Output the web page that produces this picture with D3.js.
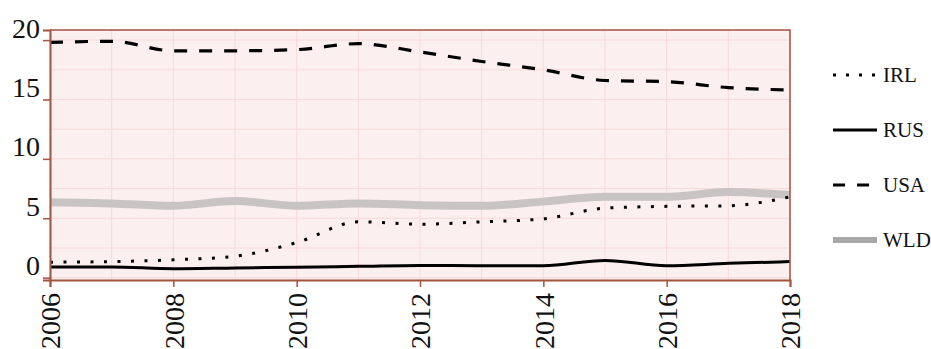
<!DOCTYPE html>
<html>
<head>
<meta charset="utf-8">
<script src="https://cdn.jsdelivr.net/npm/d3@7"></script>
<style>
  html, body { margin: 0; padding: 0; background: #ffffff; }
  svg { display: block; }
  text { font-family: "Liberation Serif", "Times New Roman", serif; fill: #111; }
</style>
</head>
<body>
<svg id="chart" width="931" height="349"></svg>
<script>
// Years on the x axis
const years = [2006, 2007, 2008, 2009, 2010, 2011, 2012, 2013, 2014, 2015, 2016, 2017, 2018];

// Series values per year
const irl = [1.3, 1.35, 1.5, 1.8, 2.95, 4.7, 4.5, 4.7, 4.95, 5.85, 6.0, 6.05, 6.8];
const rus = [0.9, 0.9, 0.75, 0.82, 0.88, 0.95, 1.03, 1.0, 1.0, 1.45, 1.0, 1.2, 1.35];
const usa = [19.8, 19.9, 19.1, 19.1, 19.2, 19.7, 19.0, 18.2, 17.5, 16.6, 16.5, 16.0, 15.8];
const wld = [6.35, 6.25, 6.05, 6.45, 6.05, 6.25, 6.1, 6.05, 6.4, 6.8, 6.8, 7.2, 6.95];

// Tick labels
const xTicks = [2006, 2008, 2010, 2012, 2014, 2016, 2018];
const yTicks = [0, 5, 10, 15, 20];
const yGrid = [0, 2.5, 5, 7.5, 10, 12.5, 15, 17.5, 20];

const seriesNames = ["IRL", "RUS", "USA", "WLD"];

const svg = d3.select("#chart");
const plotLeft = 50, plotRight = 790, plotTop = 30, plotBottom = 280;
const axisColor = "#a4533f";
const serif = "Liberation Serif";

const x = d3.scaleLinear().domain([2006, 2018]).range([plotLeft, plotRight]);
const y = d3.scaleLinear().domain([-0.2, 20.85]).range([plotBottom, plotTop]);

// Plot background
svg.append("rect")
  .attr("x", plotLeft).attr("y", plotTop)
  .attr("width", plotRight - plotLeft).attr("height", plotBottom - plotTop)
  .attr("fill", "#fcefef");

// Grid lines
const grid = svg.append("g").attr("stroke", "#f7dada").attr("stroke-width", 1);
grid.selectAll("line.h").data(yGrid).join("line").attr("class", "h")
  .attr("x1", plotLeft).attr("x2", plotRight)
  .attr("y1", d => y(d)).attr("y2", d => y(d));
grid.selectAll("line.v").data(years).join("line").attr("class", "v")
  .attr("y1", plotTop).attr("y2", plotBottom)
  .attr("x1", d => x(d)).attr("x2", d => x(d));

// Series styles
const styles = {
  IRL: { values: irl, color: "#000", width: 3, dash: "3,10.5" },
  RUS: { values: rus, color: "#000", width: 3, dash: null },
  USA: { values: usa, color: "#000", width: 3.2, dash: "13,12" },
  WLD: { values: wld, color: "#c9c4c4", width: 8, dash: null }
};

const line = d3.line()
  .x((d, i) => x(years[i]))
  .y(d => y(d))
  .curve(d3.curveMonotoneX);

const plot = svg.append("g");
["WLD", "IRL", "RUS", "USA"].forEach(name => {
  const s = styles[name];
  plot.append("path")
    .datum(s.values)
    .attr("d", line)
    .attr("fill", "none")
    .attr("stroke", s.color)
    .attr("stroke-width", s.width)
    .attr("stroke-dasharray", s.dash);
});

// Frame on top and right
svg.append("path")
  .attr("d", `M${plotLeft},${plotTop}H${plotRight}V${plotBottom}`)
  .attr("fill", "none").attr("stroke", axisColor).attr("stroke-width", 1.5);

// Y axis
const yAxis = svg.append("g").attr("transform", `translate(${plotLeft},0)`)
  .attr("font-family", serif)
  .call(d3.axisLeft(y).tickValues(yTicks).tickSize(7).tickFormat(d3.format("d")));
yAxis.attr("font-family", serif);
yAxis.select(".domain").attr("stroke", axisColor).attr("stroke-width", 2);
yAxis.selectAll(".tick line").attr("stroke", axisColor).attr("stroke-width", 1.5);
yAxis.selectAll(".tick text")
  .attr("x", -10).attr("dy", "-3px")
  .attr("font-size", 28).attr("font-family", serif)
  .attr("fill", "#111");

// X axis
const xAxis = svg.append("g").attr("transform", `translate(0,${plotBottom})`)
  .call(d3.axisBottom(x).tickValues(xTicks).tickSize(7).tickFormat(d3.format("d")));
xAxis.attr("font-family", serif);
xAxis.select(".domain").attr("stroke", axisColor).attr("stroke-width", 2);
xAxis.selectAll(".tick line").attr("stroke", axisColor).attr("stroke-width", 1.5);
xAxis.selectAll(".tick text")
  .attr("transform", "translate(0,13) rotate(-90)")
  .attr("x", 0).attr("y", 0).attr("dy", "0.35em")
  .attr("text-anchor", "end")
  .attr("font-size", 28).attr("font-family", serif)
  .attr("fill", "#111");

// Legend
const legendY = d3.scalePoint().domain(seriesNames).range([75, 240]);
const legend = svg.append("g").attr("font-family", serif);
seriesNames.forEach(name => {
  const s = styles[name];
  const ly = legendY(name);
  legend.append("line")
    .attr("x1", 833).attr("x2", 877)
    .attr("y1", ly).attr("y2", ly)
    .attr("stroke", name === "WLD" ? "#a8a8a8" : s.color)
    .attr("stroke-width", name === "WLD" ? 6 : 3)
    .attr("stroke-dasharray", name === "IRL" ? "3,10" : name === "USA" ? "12,12" : null);
  legend.append("text")
    .attr("x", 883).attr("y", ly).attr("dy", "0.35em")
    .attr("font-size", 21).attr("font-family", serif)
    .text(name);
});
</script>
</body>
</html>
